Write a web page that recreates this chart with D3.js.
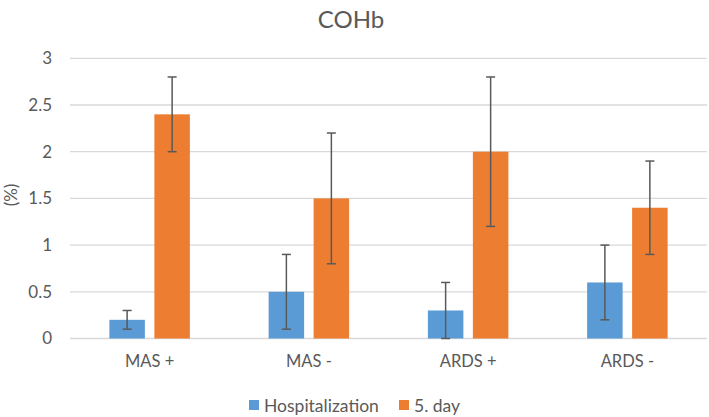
<!DOCTYPE html>
<html><head><meta charset="utf-8">
<script src="https://cdn.jsdelivr.net/npm/d3@7"></script>
<style>body{margin:0;background:#fff}svg{display:block}text{font-family:Lato,"Open Sans",sans-serif;fill:#595959}</style>
</head><body>
<svg id="c" width="709" height="417"></svg>
<script>
const categories = ["MAS +", "MAS -", "ARDS +", "ARDS -"];
const seriesNames = ["Hospitalization", "5. day"];
const hospitalization = [0.2, 0.5, 0.3, 0.6];
const hospLow = [0.1, 0.1, 0.0, 0.2];
const hospHigh = [0.3, 0.9, 0.6, 1.0];
const day5 = [2.4, 1.5, 2.0, 1.4];
const day5Low = [2.0, 0.8, 1.2, 0.9];
const day5High = [2.8, 2.2, 2.8, 1.9];
const yTicks = [0, 0.5, 1, 1.5, 2, 2.5, 3];
const colors = ["#5B9BD5", "#ED7D31"];

(function(){
const svg = d3.select("#c");
const pL = 70, pR = 707, pT = 58.3, pB = 338.5;
const x = d3.scaleBand().domain(categories).range([pL, pR]).padding(0);
const y = d3.scaleLinear().domain([0, 3]).range([pB, pT]);
const barW = 35.5, gap = 9.5;

svg.append("g").selectAll("line").data(yTicks).join("line")
  .attr("x1", pL).attr("x2", pR)
  .attr("y1", d => y(d)).attr("y2", d => y(d))
  .attr("stroke", "#D9D9D9").attr("stroke-width", 1.3);

const yAxis = d3.axisLeft(y).tickValues(yTicks).tickSize(0).tickPadding(18).tickFormat(d3.format("~g"));
const ga = svg.append("g").attr("transform", `translate(${pL},0)`).call(yAxis);
ga.select(".domain").remove();
ga.selectAll("text").style("font-size", "17px").attr("fill", "#595959").style("font-family", "Lato,sans-serif");

const xAxis = d3.axisBottom(x).tickSize(0).tickPadding(17);
const gx = svg.append("g").attr("transform", `translate(0,${pB})`).call(xAxis);
gx.select(".domain").remove();
gx.selectAll("text").style("font-size", "16.5px").attr("fill", "#595959").style("font-family", "Lato,sans-serif");

const series = [
  {vals: hospitalization, lo: hospLow, hi: hospHigh, off: -(gap/2 + barW)},
  {vals: day5, lo: day5Low, hi: day5High, off: gap/2}
];
series.forEach((s, si) => {
  const g = svg.append("g");
  g.selectAll("rect").data(categories).join("rect")
    .attr("x", (c) => x(c) + x.bandwidth()/2 + s.off)
    .attr("width", barW)
    .attr("y", (c, i) => y(s.vals[i]))
    .attr("height", (c, i) => y(0) - y(s.vals[i]))
    .attr("fill", colors[si]);
  const e = svg.append("g").attr("stroke", "#595959").attr("stroke-width", 1.5);
  categories.forEach((c, i) => {
    const cx = x(c) + x.bandwidth()/2 + s.off + barW/2;
    e.append("line").attr("x1", cx).attr("x2", cx).attr("y1", y(s.lo[i])).attr("y2", y(s.hi[i]));
    e.append("line").attr("x1", cx-4.5).attr("x2", cx+4.5).attr("y1", y(s.lo[i])).attr("y2", y(s.lo[i]));
    e.append("line").attr("x1", cx-4.5).attr("x2", cx+4.5).attr("y1", y(s.hi[i])).attr("y2", y(s.hi[i]));
  });
});

svg.append("text").attr("x", 351).attr("y", 28).attr("text-anchor", "middle")
  .style("font-size", "24px").text("COHb");
svg.append("text").attr("transform", "translate(17,195) rotate(-90)").attr("text-anchor", "middle")
  .style("font-size", "17px").text("(%)");

const leg = svg.append("g");
const legX = [249, 399];
seriesNames.forEach((n, i) => {
  leg.append("rect").attr("x", legX[i]).attr("y", 400).attr("width", 10).attr("height", 10).attr("fill", colors[i]);
  leg.append("text").attr("x", legX[i] + 15).attr("y", 411.5).style("font-size", "17.5px").text(n);
});
})();
</script>
</body></html>
